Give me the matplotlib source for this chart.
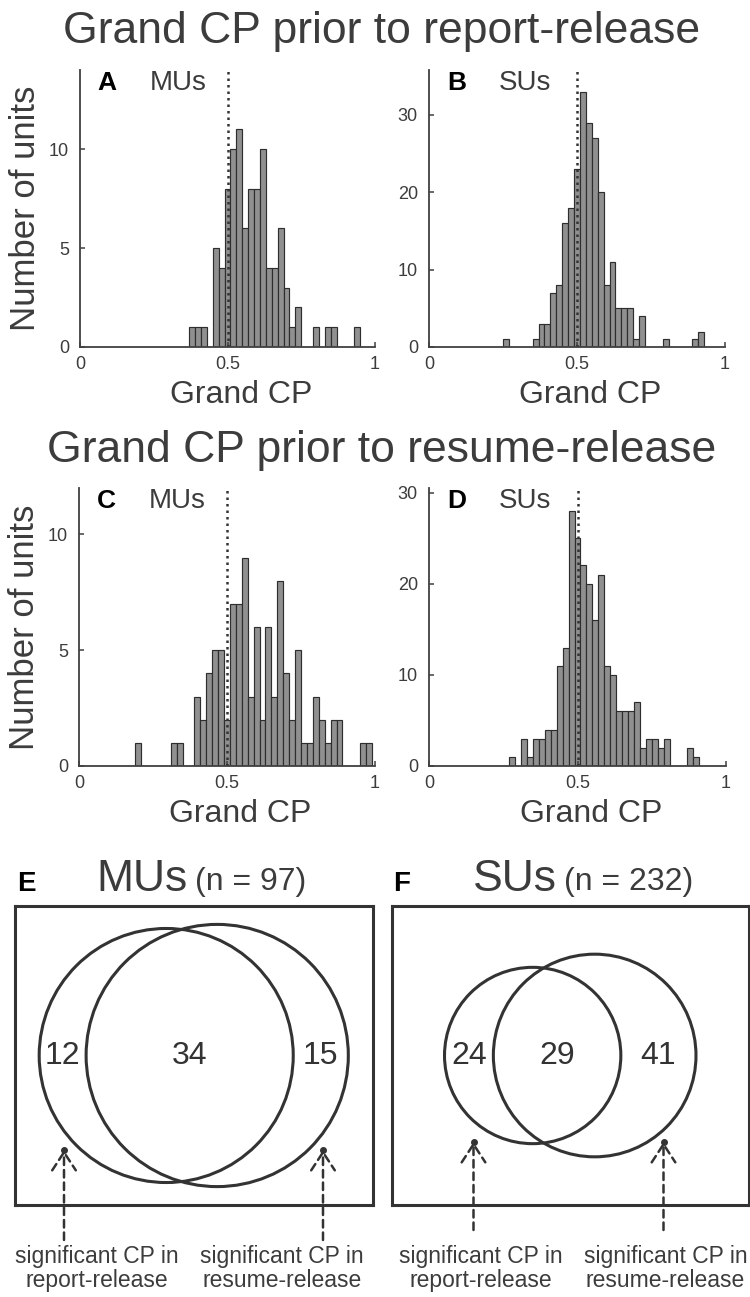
import numpy as np
import matplotlib.pyplot as plt
from matplotlib.patches import Circle

plt.rcParams['font.family'] = ['Liberation Sans', 'DejaVu Sans']

W_PX, H_PX = 750, 1297
DARK = '#333333'
TXT = '#3c3c3c'

# grand CP histograms: bin centres (bin width 0.02) and number of units per bin
mu_report_cp = [0.38, 0.40, 0.42, 0.46, 0.48, 0.50, 0.52, 0.54, 0.56, 0.58, 0.60,
                0.62, 0.64, 0.66, 0.68, 0.70, 0.72, 0.74, 0.80, 0.84, 0.86, 0.94]
mu_report_n = [1, 1, 1, 5, 4, 8, 10, 11, 6, 8, 8, 10, 4, 4, 6, 3, 1, 2, 1, 1, 1, 1]

su_report_cp = [0.26, 0.36, 0.38, 0.40, 0.42, 0.44, 0.46, 0.48, 0.50, 0.52, 0.54, 0.56,
                0.58, 0.60, 0.62, 0.64, 0.66, 0.68, 0.70, 0.72, 0.80, 0.90, 0.92]
su_report_n = [1, 1, 3, 3, 7, 8, 16, 18, 23, 33, 29, 27, 20, 8, 11, 5, 5, 5, 1, 4, 1, 1, 2]

mu_resume_cp = [0.20, 0.32, 0.34, 0.40, 0.42, 0.44, 0.46, 0.48, 0.50, 0.52, 0.54, 0.56,
                0.58, 0.60, 0.62, 0.64, 0.66, 0.68, 0.70, 0.72, 0.74, 0.76, 0.78, 0.80,
                0.82, 0.84, 0.86, 0.88, 0.96, 0.98]
mu_resume_n = [1, 1, 1, 3, 2, 4, 5, 5, 2, 7, 7, 9, 3, 6, 2, 6, 3, 8, 4, 2, 5, 1, 1, 3,
               2, 1, 2, 2, 1, 1]

su_resume_cp = [0.28, 0.32, 0.34, 0.36, 0.38, 0.40, 0.42, 0.44, 0.46, 0.48, 0.50, 0.52,
                0.54, 0.56, 0.58, 0.60, 0.62, 0.64, 0.66, 0.68, 0.70, 0.72, 0.74, 0.76,
                0.78, 0.80, 0.88, 0.90]
su_resume_n = [1, 3, 1, 3, 3, 4, 4, 11, 13, 28, 25, 22, 20, 16, 21, 11, 10, 6, 6, 6, 7,
               2, 3, 3, 2, 3, 2, 1]

# overlap of units with significant CP in the two epochs
venn_group = ['MUs', 'SUs']
venn_total = [97, 232]
only_report = [12, 24]
in_both = [34, 29]
only_resume = [15, 41]


def px_rect(left, top, width, height):
    return [left / W_PX, 1 - (top + height) / H_PX, width / W_PX, height / H_PX]


def hist_panel(rect, cp, counts, letter, group, ymax, yticks, ylabel=False):
    ax = fig.add_axes(px_rect(*rect))
    ax.bar(cp, counts, width=0.02, color='#909090', edgecolor='#2e2e2e', linewidth=0.85)
    ax.axvline(0.5, color=DARK, linestyle=(0, (1, 1.6)), linewidth=1.8)
    ax.set_xlim(0, 1)
    ax.set_ylim(0, ymax)
    ax.set_xticks([0, 0.5, 1])
    ax.set_xticklabels(['0', '0.5', '1'])
    ax.set_yticks(yticks)
    for side in ['top', 'right']:
        ax.spines[side].set_visible(False)
    for side in ['left', 'bottom']:
        ax.spines[side].set_color('#404040')
        ax.spines[side].set_linewidth(1.3)
    ax.tick_params(direction='in', length=3.5, width=1.1, color='#404040',
                   labelcolor=TXT, labelsize=13)
    ax.tick_params(axis='x', pad=6.5)
    ax.tick_params(axis='y', pad=8)
    ax.set_xlabel('Grand CP', fontsize=23, color=TXT)
    ax.xaxis.set_label_coords(0.545, -0.12)
    if ylabel:
        ax.set_ylabel('Number of units', fontsize=25, color=TXT)
        ax.yaxis.set_label_coords(-0.13, 0.5)
    ax.text(0.06, 0.928, letter, transform=ax.transAxes, fontsize=19,
            fontweight='bold', color='black', va='baseline')
    ax.text(0.235, 0.928, group, transform=ax.transAxes, fontsize=20,
            color=TXT, va='baseline')
    return ax


def venn_panel(rect, k, letter, sep, arrow_x, text_x, tip_y, tail_y):
    left, top, w, h = rect
    ax = fig.add_axes(px_rect(left, top, w, h))
    ax.set_xlim(0, w)
    ax.set_ylim(0, h)
    ax.set_xticks([])
    ax.set_yticks([])
    for s in ax.spines.values():
        s.set_linewidth(2.2)
        s.set_color(DARK)

    total = venn_total[k]
    # circle areas proportional to the share of units in the box
    r1 = np.sqrt(w * h * (only_report[k] + in_both[k]) / total / np.pi)
    r2 = np.sqrt(w * h * (only_resume[k] + in_both[k]) / total / np.pi)
    c1 = w / 2 + (r1 - sep - r2) / 2
    c2 = c1 + sep
    cy = h / 2
    ax.add_patch(Circle((c1, cy), r1, fill=False, lw=2.2, ec=DARK))
    ax.add_patch(Circle((c2, cy), r2, fill=False, lw=2.2, ec=DARK))

    spots = [((c1 - r1) + (c2 - r2)) / 2,
             ((c2 - r2) + (c1 + r1)) / 2,
             ((c1 + r1) + (c2 + r2)) / 2]
    for x, v in zip(spots, [only_report[k], in_both[k], only_resume[k]]):
        ax.text(x, cy, str(v), ha='center', va='center', fontsize=23, color=DARK)

    # header
    ax.text(2, h + 15, letter, fontsize=20, fontweight='bold', color='black',
            va='baseline', clip_on=False)
    t1 = ax.text(0.229 * w, h + 15, venn_group[k], fontsize=32, color=TXT,
                 va='baseline', clip_on=False)
    ax.annotate('(n = %d)' % total, xy=(1, 0), xycoords=t1, xytext=(5, 2),
                textcoords='offset points', fontsize=23, color=TXT, va='bottom')

    labels = ['significant CP in\nreport-release', 'significant CP in\nresume-release']
    for ax_x, tx_x, lab in zip(arrow_x, text_x, labels):
        ax.annotate('', xy=(ax_x, tip_y), xytext=(ax_x, tail_y),
                    arrowprops=dict(arrowstyle='->,head_length=1.3,head_width=0.85',
                                    linestyle=(0, (3, 2)), lw=1.8, color=DARK,
                                    shrinkA=0, shrinkB=0, clip_on=False),
                    annotation_clip=False)
        ax.plot([ax_x], [tip_y], 'o', ms=4, color=DARK, clip_on=False)
        ax.text(tx_x, -40, lab, ha='center', va='top', fontsize=16.5, color=TXT,
                linespacing=1.05, clip_on=False)
    return ax


fig = plt.figure(figsize=(W_PX / 100, H_PX / 100), dpi=100)

fig.text(0.509, 1 - 43 / H_PX, 'Grand CP prior to report-release', ha='center',
         va='baseline', fontsize=32, color=TXT)
fig.text(0.509, 1 - 462 / H_PX, 'Grand CP prior to resume-release', ha='center',
         va='baseline', fontsize=32, color=TXT)

hist_panel((80, 70, 295, 277), mu_report_cp, mu_report_n, 'A', 'MUs', 14, [0, 5, 10], ylabel=True)
hist_panel((429, 70, 296, 277), su_report_cp, su_report_n, 'B', 'SUs', 35.8, [0, 10, 20, 30])
hist_panel((79, 488, 296, 278), mu_resume_cp, mu_resume_n, 'C', 'MUs', 12, [0, 5, 10], ylabel=True)
hist_panel((429, 488, 297, 278), su_resume_cp, su_resume_n, 'D', 'SUs', 30.5, [0, 10, 20, 30])

venn_panel((15, 906, 357.5, 299), 0, 'E', sep=51, arrow_x=(49, 308),
           text_x=(82, 267), tip_y=55, tail_y=-35)
venn_panel((391.5, 906, 357.5, 299), 1, 'F', sep=62, arrow_x=(82, 272),
           text_x=(89, 274), tip_y=63, tail_y=-25)

fig.savefig('out.png', dpi=100)
